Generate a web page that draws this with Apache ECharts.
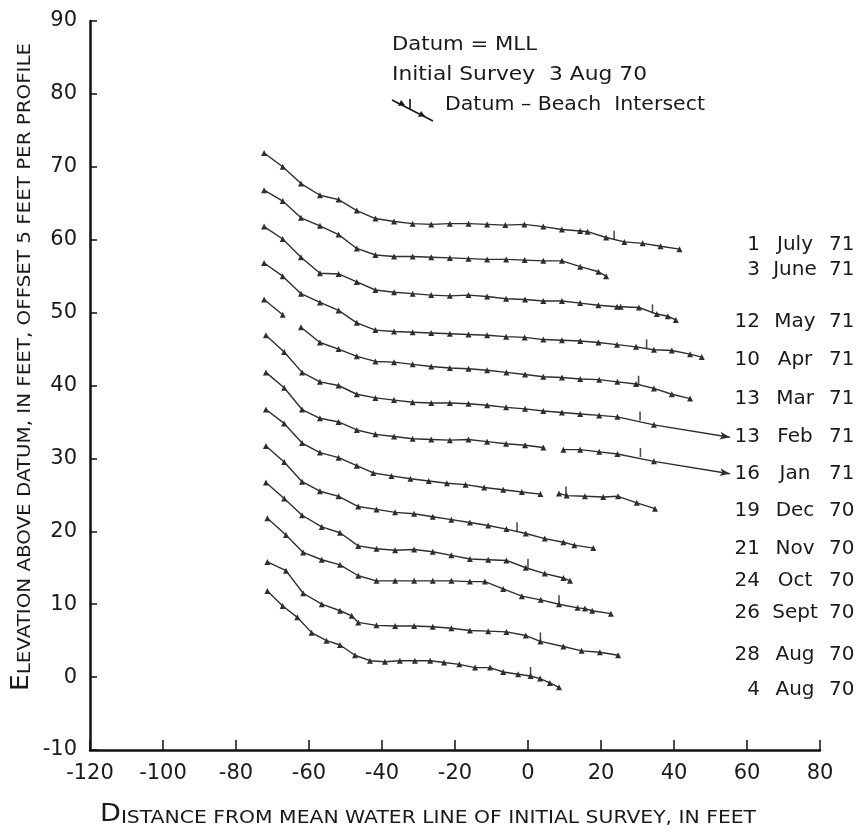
<!DOCTYPE html>
<html>
<head>
<meta charset="utf-8">
<script src="https://cdn.jsdelivr.net/npm/echarts@6/dist/echarts.min.js"></script>
<style>html,body{margin:0;padding:0;background:#fff}#c{width:861px;height:834px}</style>
</head>
<body>
<div id="c"></div>
<script>
// ---------------- DATA ----------------
const xTickValues = [-120, -100, -80, -60, -40, -20, 0, 20, 40, 60, 80];
const yTickValues = [-10, 0, 10, 20, 30, 40, 50, 60, 70, 80, 90];

const dayLabels   = ['1', '3', '12', '10', '13', '13', '16', '19', '21', '24', '26', '28', '4'];
const monthLabels = ['July', 'June', 'May', 'Apr', 'Mar', 'Feb', 'Jan', 'Dec', 'Nov', 'Oct', 'Sept', 'Aug', 'Aug'];
const yearLabels  = ['71', '71', '71', '71', '71', '71', '71', '70', '70', '70', '70', '70', '70'];

const jul71X = [-72.3,-67.2,-62.2,-57.0,-51.9,-46.9,-41.8,-36.7,-31.6,-26.5,-21.4,-16.3,-11.2,-6.2,-1.0,4.2,9.3,14.3,16.3,21.4,26.4,31.4,36.3,41.5];
const jul71Y = [71.9,70.0,67.7,66.1,65.5,64.0,62.9,62.5,62.2,62.1,62.2,62.2,62.1,62.0,62.1,61.8,61.4,61.2,61.1,60.3,59.7,59.5,59.1,58.7];

const jun71X = [-72.3,-67.2,-62.2,-57.0,-51.9,-46.9,-41.8,-36.7,-31.6,-26.5,-21.4,-16.3,-11.2,-6.0,-0.9,4.2,9.3,14.3,19.3,21.4];
const jun71Y = [66.8,65.3,63.0,61.9,60.7,58.8,57.9,57.7,57.7,57.6,57.5,57.4,57.3,57.3,57.2,57.1,57.1,56.3,55.6,55.0];

const may71X = [-72.3,-67.2,-62.2,-57.0,-51.9,-46.9,-41.8,-36.7,-31.6,-26.5,-21.4,-16.3,-11.2,-6.0,-0.8,4.2,9.3,14.3,19.3,24.4,25.4,30.4,35.3,38.3,40.5];
const may71Y = [61.8,60.1,57.6,55.4,55.3,54.2,53.1,52.8,52.6,52.4,52.3,52.4,52.2,51.9,51.8,51.6,51.6,51.3,51.0,50.8,50.8,50.7,49.8,49.5,49.0];

const apr71X = [-72.3,-67.2,-62.2,-57.0,-51.9,-46.9,-41.8,-36.7,-31.6,-26.5,-21.4,-16.3,-11.2,-6.0,-0.9,4.2,9.3,14.3,19.3,24.4,29.6,34.5,39.4,44.4,47.6];
const apr71Y = [56.8,55.0,52.6,51.4,50.3,48.6,47.6,47.4,47.3,47.2,47.1,47.0,46.9,46.7,46.6,46.3,46.2,46.1,45.9,45.6,45.3,44.9,44.8,44.3,43.9];

const mar71X = [-72.3,-67.2,null,-62.2,-57.0,-51.9,-46.9,-41.8,-36.7,-31.6,-26.5,-21.4,-16.3,-11.2,-5.9,-0.8,4.2,9.3,14.3,19.5,24.5,29.6,34.5,39.4,44.4];
const mar71Y = [51.8,49.7,null,48.0,45.9,45.0,44.0,43.3,43.2,42.9,42.6,42.4,42.3,42.1,41.8,41.5,41.2,41.1,40.9,40.8,40.5,40.2,39.6,38.8,38.2];

const feb71X = [-71.8,-66.8,-61.9,-57.0,-51.9,-46.9,-41.8,-36.7,-31.6,-26.5,-21.4,-16.3,-11.2,-6.0,-0.8,4.2,9.3,14.3,19.5,24.5,34.5,55.3];
const feb71Y = [46.9,44.6,41.8,40.5,40.0,38.8,38.3,38.0,37.7,37.6,37.6,37.5,37.3,37.0,36.8,36.5,36.3,36.1,35.9,35.7,34.6,32.9];

const jan71X = [-71.8,-66.8,-61.9,-57.0,-51.9,-46.9,-41.8,-36.7,-31.6,-26.5,-21.4,-16.3,-11.2,-6.0,-0.8,4.2,null,9.7,14.3,19.5,24.5,34.5,55.3];
const jan71Y = [41.8,39.7,36.7,35.5,35.0,33.9,33.3,33.0,32.7,32.6,32.5,32.6,32.3,32.0,31.8,31.5,null,31.2,31.2,30.9,30.6,29.6,27.9];

const dec70X = [-71.8,-66.8,-61.9,-57.0,-51.9,-46.9,-42.4,-37.4,-32.2,-27.2,-22.2,-17.1,-12.0,-6.8,-1.7,3.4,null,8.5,10.6,15.6,20.6,24.7,29.8,34.8];
const dec70Y = [36.7,34.8,32.1,30.8,30.1,29.0,28.0,27.6,27.2,26.9,26.6,26.4,26.0,25.7,25.4,25.1,null,25.2,24.9,24.8,24.7,24.8,23.9,23.1];

const nov70X = [-71.8,-66.8,-61.9,-57.0,-51.9,-46.5,-41.5,-36.4,-31.2,-26.1,-21.0,-15.9,-10.9,-5.9,-0.6,4.6,9.7,12.7,17.9];
const nov70Y = [31.7,29.5,26.8,25.5,24.8,23.4,23.0,22.6,22.4,22.0,21.6,21.2,20.8,20.3,19.7,19.0,18.5,18.1,17.7];

const oct70X = [-71.8,-66.8,-61.9,-56.5,-51.5,-46.5,-41.5,-36.4,-31.2,-26.1,-21.0,-15.9,-10.9,-5.9,-0.6,4.6,9.7,11.5];
const oct70Y = [26.7,24.5,22.2,20.6,19.8,18.0,17.6,17.4,17.5,17.2,16.7,16.2,16.1,16.0,15.0,14.2,13.6,13.2];

const sep70X = [-71.4,-66.3,-61.6,-56.5,-51.5,-46.5,-41.5,-36.4,-31.2,-26.1,-21.0,-15.9,-11.8,-6.8,-1.7,3.5,8.5,13.6,15.6,17.6,22.7];
const sep70Y = [21.8,19.5,17.1,16.1,15.4,13.9,13.2,13.2,13.2,13.2,13.2,13.1,13.1,12.1,11.1,10.6,10.0,9.5,9.4,9.1,8.7];

const aug28X = [-71.4,-66.3,-61.6,-56.5,-51.5,-48.3,-46.5,-41.5,-36.4,-31.2,-26.1,-21.0,-15.9,-10.9,-5.9,-0.6,3.4,9.7,14.7,19.7,24.7];
const aug28Y = [15.8,14.6,11.5,10.0,9.1,8.4,7.5,7.1,7.0,7.0,6.9,6.7,6.4,6.3,6.2,5.7,4.9,4.2,3.6,3.4,3.0];

const aug4X = [-71.4,-67.2,-63.2,-59.3,-55.2,-51.5,-47.4,-43.3,-39.2,-35.1,-31.0,-26.8,-23.0,-18.8,-14.5,-10.4,-6.8,-2.7,0.7,3.3,6.0,8.5];
const aug4Y = [11.8,9.75,8.2,6.1,5.0,4.4,3.0,2.25,2.1,2.25,2.25,2.25,2.0,1.75,1.3,1.3,0.7,0.4,0.15,-0.2,-0.8,-1.4];

// Datum - beach intersect marks
const intersectX = [23.6, 34.1, 32.5, 30.3, 30.7, 30.8, 10.4, -3.0, 0.0, 8.5, 3.4, 0.7];
const intersectY = [60.0, 49.9, 45.1, 40.1, 35.2, 30.2, 24.9, 20.0, 15.0, 10.0, 4.9, 0.15];

// ---------------- LAYOUT / STYLE ----------------
const W = 861, H = 834;
const GRID = {left: 90, right: 41, top: 21, bottom: 84};
const X_MIN = -120, X_MAX = 80, Y_MIN = -10, Y_MAX = 90;
const plotW = W - GRID.left - GRID.right, plotH = H - GRID.top - GRID.bottom;
const pxPerX = plotW / (X_MAX - X_MIN), pxPerY = plotH / (Y_MAX - Y_MIN);
const FONT = "'DejaVu Sans', sans-serif";
const INK = '#1a1a1a';
const LINE = '#2e2e2e';

const profileX = [jul71X, jun71X, may71X, apr71X, mar71X, feb71X, jan71X, dec70X, nov70X, oct70X, sep70X, aug28X, aug4X];
const profileY = [jul71Y, jun71Y, may71Y, apr71Y, mar71Y, feb71Y, jan71Y, dec70Y, nov70Y, oct70Y, sep70Y, aug28Y, aug4Y];
const arrowProfiles = [5, 6]; // profiles that end with a leader arrow toward the label
const labelCenterY = [245, 270, 322, 360, 399, 437, 474, 511, 549, 581, 613, 655, 690];

function buildData(xs, ys, withArrow) {
  const out = xs.map((x, i) => (x === null || ys[i] === null) ? ['-', '-'] : [x, ys[i]]);
  if (withArrow) {
    const n = xs.length;
    const dx = (xs[n - 1] - xs[n - 2]) * pxPerX;
    const dy = (ys[n - 1] - ys[n - 2]) * pxPerY;
    const ang = Math.atan2(dy, dx) * 180 / Math.PI;
    out[n - 1] = {value: out[n - 1], symbol: 'arrow', symbolSize: [6, 10], symbolRotate: ang - 90};
  }
  return out;
}

const series = profileX.map((xs, i) => ({
  type: 'line',
  name: dayLabels[i] + ' ' + monthLabels[i] + ' ' + yearLabels[i],
  data: buildData(xs, profileY[i], arrowProfiles.includes(i)),
  symbol: 'triangle',
  symbolSize: 6,
  showSymbol: true,
  connectNulls: false,
  lineStyle: {color: LINE, width: 1.4},
  itemStyle: {color: LINE},
  emphasis: {disabled: true},
  animation: false,
  z: 2
}));

series.push({
  type: 'scatter',
  name: 'Datum - Beach Intersect',
  data: intersectX.map((x, i) => [x, intersectY[i]]),
  symbol: 'rect',
  symbolSize: [1.6, 9],
  symbolOffset: [0, -4.5],
  itemStyle: {color: '#222'},
  animation: false,
  z: 3
});

// measure helper to fit lettering widths
const mctx = document.createElement('canvas').getContext('2d');
function tw(str, size) { mctx.font = size + "px 'DejaVu Sans'"; return mctx.measureText(str).width; }

const graphics = [];
// date labels on the right
labelCenterY.forEach((cy, i) => {
  const base = {fontSize: 20, fontFamily: FONT, fill: INK, verticalAlign: 'middle', textVerticalAlign: 'middle'};
  graphics.push({type: 'text', x: 760, y: cy, silent: true,
    style: Object.assign({text: dayLabels[i], align: 'right', textAlign: 'right'}, base)});
  graphics.push({type: 'text', x: 795, y: cy, silent: true,
    style: Object.assign({text: monthLabels[i], align: 'center', textAlign: 'center'}, base)});
  graphics.push({type: 'text', x: 829, y: cy, silent: true,
    style: Object.assign({text: yearLabels[i], align: 'left', textAlign: 'left'}, base)});
});

// annotation block
function fitText(str, size, x, y, targetW) {
  const s = targetW / tw(str, size);
  graphics.push({type: 'text', x: x, y: y, scaleX: s, silent: true,
    style: {text: str, fontSize: size, fontFamily: FONT, fill: INK, align: 'left', textAlign: 'left',
            verticalAlign: 'middle', textVerticalAlign: 'middle'}});
}
fitText('Datum = MLL', 20, 392, 45, 145);
fitText('Initial Survey  3 Aug 70', 20, 392, 75, 255);
fitText('Datum \u2013 Beach  Intersect', 20, 445, 105, 260);

// legend symbol
graphics.push({type: 'line', silent: true, shape: {x1: 392, y1: 100, x2: 433, y2: 121}, style: {stroke: INK, lineWidth: 1.7}});
graphics.push({type: 'line', silent: true, shape: {x1: 410, y1: 99, x2: 410, y2: 110}, style: {stroke: INK, lineWidth: 1.7}});
graphics.push({type: 'polygon', silent: true, shape: {points: [[401, 100], [398, 106], [405, 105]]}, style: {fill: INK}});
graphics.push({type: 'polygon', silent: true, shape: {points: [[421, 111], [418, 117], [425, 116]]}, style: {fill: INK}});

// axis titles (small caps lettering)
function smallCaps(first, rest, big, small, cx, cy, targetW, rot) {
  const w = tw(first, big) + tw(rest, small);
  const s = targetW / w;
  graphics.push({type: 'text', x: cx, y: cy, rotation: rot, scaleX: s, silent: true,
    style: {text: '{b|' + first + '}{s|' + rest + '}', fill: INK, align: 'center', textAlign: 'center',
            verticalAlign: 'middle', textVerticalAlign: 'middle',
            rich: {b: {fontSize: big, fontFamily: FONT, fill: INK, verticalAlign: 'bottom'},
                   s: {fontSize: small, fontFamily: FONT, fill: INK, verticalAlign: 'bottom'}}}});
}
smallCaps('D', 'ISTANCE FROM MEAN WATER LINE OF INITIAL SURVEY, IN FEET', 24, 18, 428, 815, 656, 0);
smallCaps('E', 'LEVATION ABOVE DATUM, IN FEET, OFFSET 5 FEET PER PROFILE', 24, 18, 22, 367, 648, Math.PI / 2);

const axisCommon = {
  type: 'value',
  splitLine: {show: false},
  axisLine: {show: true, onZero: false, lineStyle: {color: '#111', width: 2.5}},
  axisTick: {show: true, inside: true, lineStyle: {color: '#111', width: 1.5}},
  axisLabel: {color: INK, fontSize: 21, fontFamily: FONT}
};

const option = {
  backgroundColor: '#fff',
  animation: false,
  grid: GRID,
  xAxis: Object.assign({}, axisCommon, {
    min: X_MIN, max: X_MAX, interval: xTickValues[1] - xTickValues[0],
    axisTick: Object.assign({}, axisCommon.axisTick, {length: 10}),
    axisLabel: Object.assign({}, axisCommon.axisLabel, {margin: 13})
  }),
  yAxis: Object.assign({}, axisCommon, {
    min: Y_MIN, max: Y_MAX, interval: yTickValues[1] - yTickValues[0],
    axisTick: Object.assign({}, axisCommon.axisTick, {length: 7}),
    axisLabel: Object.assign({}, axisCommon.axisLabel, {margin: 13})
  }),
  series: series,
  graphic: graphics
};

const chart = echarts.init(document.getElementById('c'), null, {renderer: 'canvas', width: W, height: H});
chart.setOption(option);
</script>
</body>
</html>
